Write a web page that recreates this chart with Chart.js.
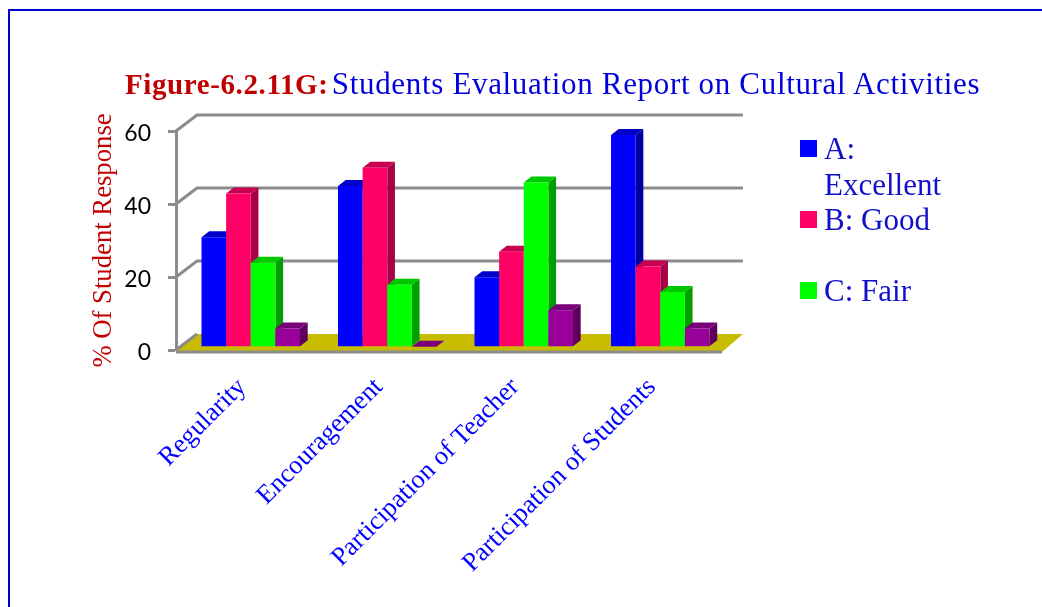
<!DOCTYPE html>
<html>
<head>
<meta charset="utf-8">
<title>Figure-6.2.11G</title>
<script src="https://cdn.jsdelivr.net/npm/chart.js@4/dist/chart.umd.js"></script>
<style>
  html, body { margin: 0; padding: 0; background: #fff; overflow: hidden; }
  #page { position: relative; width: 1042px; height: 607px; }
  #frame { position: absolute; left: 8px; top: 9px; right: 0; bottom: 0; border-left: 2px solid #0000cc; border-top: 2px solid #0000cc; }
  #chart { position: absolute; left: 0; top: 0; }
  #title { position: absolute; left: 125px; top: 66px; white-space: nowrap; font: 31px "Liberation Serif", serif; color: #0000dd; letter-spacing: 0.67px; }
  #title b { color: #c00000; font-size: 29px; letter-spacing: 0.6px; margin-right: -5px; }
  #legend { position: absolute; left: 800px; top: 131px; width: 160px; font: 31px/35.5px "Liberation Serif", serif; color: #1010cc; }
  .row { position: relative; padding-left: 24px; }
  .row i { position: absolute; left: 0; top: 9px; width: 17px; height: 17px; }
</style>
</head>
<body>
<div id="page">
  <div id="frame"></div>
  <canvas id="chart" width="1042" height="607"></canvas>
  <div id="title"><b>Figure-6.2.11G:</b> Students Evaluation Report on Cultural Activities</div>
  <div id="legend"></div>
</div>
<script>
const categories = ['Regularity', 'Encouragement', 'Participation of Teacher', 'Participation of Students'];
const seriesA = [30, 44, 19, 58];
const seriesB = [42, 49, 26, 22];
const seriesC = [23, 17, 45, 15];
const seriesD = [5, 0, 10, 5];
const yTicks = [0, 20, 40, 60];

const GRID = '#8c8c8c';

// the 3d box: back wall offset, and where the bars stand on the floor
const wall = { dx: 21, dy: -16 };
const barShift = { dx: 6.5, dy: -3.3 };
const barDepth = { dx: 7.7, dy: -6 };

function polygon(ctx, pts, fill) {
  ctx.beginPath();
  pts.forEach((p, i) => (i ? ctx.lineTo(p[0], p[1]) : ctx.moveTo(p[0], p[1])));
  ctx.closePath();
  ctx.fillStyle = fill;
  ctx.fill();
}

function drawWalls(chart) {
  const { ctx, chartArea: a, scales: { y } } = chart;
  ctx.save();
  // floor
  polygon(ctx, [
    [a.left, a.bottom + 1],
    [a.left + wall.dx, a.bottom + wall.dy],
    [a.right + wall.dx, a.bottom + wall.dy],
    [a.right, a.bottom + 2]
  ], '#c8bc00');
  // side and back wall lines
  ctx.strokeStyle = GRID;
  ctx.lineWidth = 3;
  yTicks.forEach(v => {
    const py = y.getPixelForValue(v);
    ctx.beginPath();
    ctx.moveTo(a.left, py);
    ctx.lineTo(a.left + wall.dx, py + wall.dy);
    if (v > 0) ctx.lineTo(a.right + wall.dx, py + wall.dy);
    ctx.stroke();
  });
  // front floor edge
  ctx.beginPath();
  ctx.moveTo(a.left, a.bottom + 2);
  ctx.lineTo(a.right, a.bottom + 2);
  ctx.stroke();
  ctx.restore();
}

const box3d = {
  id: 'box3d',
  // chart.js paints datasets last to first, but here every bar has to cover
  // the side of the one on its left, so paint them in order and cancel the default
  beforeDatasetsDraw(chart) {
    const { ctx } = chart;
    drawWalls(chart);
    ctx.save();
    ctx.translate(barShift.dx, barShift.dy);
    chart.data.datasets.forEach((ds, i) => {
      const meta = chart.getDatasetMeta(i);
      meta.data.forEach(bar => {
        const { x, y, base, width } = bar.getProps(['x', 'y', 'base', 'width']);
        const r = x + width / 2, l = x - width / 2;
        const dx = barDepth.dx, dy = barDepth.dy;
        polygon(ctx, [[r, y], [r + dx, y + dy], [r + dx, base + dy], [r, base]], ds.sideColor);
        polygon(ctx, [[l, y], [l + dx, y + dy], [r + dx, y + dy], [r, y]], ds.topColor);
      });
      meta.controller.draw();
    });
    ctx.restore();
    return false;
  }
};

function makeSeries(data, color, sideColor, topColor) {
  return { data, backgroundColor: color, sideColor, topColor };
}

new Chart(document.getElementById('chart'), {
  type: 'bar',
  data: {
    labels: categories,
    datasets: [
      makeSeries(seriesA, '#0000ff', '#0000a0', '#0000c8'),
      makeSeries(seriesB, '#ff0066', '#a80048', '#c8004f'),
      makeSeries(seriesC, '#00ff00', '#00a000', '#00c800'),
      makeSeries(seriesD, '#990099', '#5c005c', '#780078')
    ]
  },
  options: {
    responsive: false,
    animation: false,
    layout: { padding: { left: 0, top: 131, right: 320, bottom: 0 } },
    datasets: { bar: { barPercentage: 1, categoryPercentage: 0.7215 } },
    plugins: { legend: { display: false }, tooltip: { enabled: false } },
    scales: {
      x: {
        afterFit: s => { s.height = 257; },
        grid: { display: false },
        border: { display: false },
        ticks: {
          autoSkip: false,
          minRotation: 45,
          maxRotation: 45,
          padding: 14,
          labelOffset: -2,
          color: '#0000ff',
          font: { family: '"Liberation Serif"', size: 26.4 }
        }
      },
      y: {
        min: 0,
        max: 60,
        afterFit: s => { s.width = 176; },
        afterBuildTicks: s => { s.ticks = yTicks.map(value => ({ value })); },
        grid: { drawOnChartArea: false, tickLength: 8, tickColor: GRID, tickWidth: 3 },
        border: { color: GRID, width: 3 },
        ticks: { padding: 17, labelOffset: 3, color: '#000', font: { family: 'Lato', size: 23 } },
        title: {
          display: true,
          text: '% Of Student Response',
          color: '#c00000',
          font: { family: '"Liberation Serif"', size: 26.7 },
          padding: { top: 88, bottom: 0 }
        }
      }
    }
  },
  plugins: [box3d]
});

// legend is laid out by line, the blank row is in the reference
const legendRows = [
  { color: '#0000ff', text: 'A:<br>Excellent' },
  { color: '#ff0066', text: 'B: Good' },
  { color: null, text: '&nbsp;' },
  { color: '#00ff00', text: 'C: Fair' }
];
document.getElementById('legend').innerHTML = legendRows.map(r =>
  `<div class="row">${r.color ? `<i style="background:${r.color}"></i>` : ''}${r.text}</div>`
).join('');
</script>
</body>
</html>
